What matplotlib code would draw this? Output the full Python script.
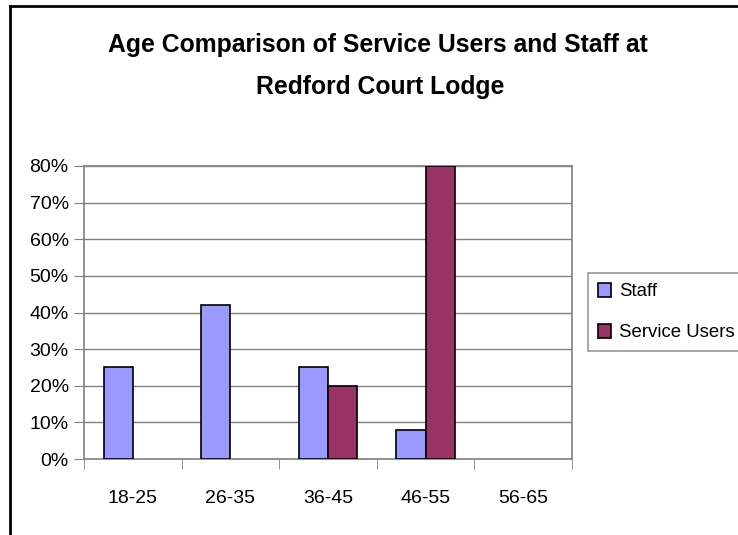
import numpy as np
import matplotlib
matplotlib.use("Agg")
import matplotlib.pyplot as plt
from matplotlib.lines import Line2D
from matplotlib.patches import Patch
from matplotlib.ticker import PercentFormatter

# Data
aldersgrupper = ["18-25", "26-35", "36-45", "46-55", "56-65"]
staff = [25, 42, 25, 8, 0]
service_users = [0, 0, 20, 80, 0]
y_ticks = [0, 10, 20, 30, 40, 50, 60, 70, 80]

farge_staff = "#9999ff"
farge_users = "#993366"

plt.rcParams['font.family'] = ['Liberation Sans', 'DejaVu Sans']

fig = plt.figure(figsize=(7.38, 5.35), dpi=100)
ax = fig.add_axes([84/738, 1 - 459/535, (572 - 84)/738, (459 - 166)/535])

x = np.arange(len(aldersgrupper))
bredde = 0.30
stolper1 = ax.bar(x - bredde/2, staff, width=bredde, color=farge_staff, edgecolor="black",
                  linewidth=1.2, zorder=3)
stolper2 = ax.bar(x + bredde/2, service_users, width=bredde, color=farge_users, edgecolor="black",
                  linewidth=1.2, zorder=3)
# skjuler stolper med verdi 0, Excel tegner ingen kant for dem
for stolpe in list(stolper1) + list(stolper2):
    if stolpe.get_height() == 0:
        stolpe.set_visible(False)

ax.set_xlim(-0.5, len(aldersgrupper) - 0.5)
ax.set_ylim(0, 80)
ax.set_yticks(y_ticks)
ax.yaxis.set_major_formatter(PercentFormatter(decimals=0))
ax.grid(axis="y", color="#808080", linewidth=1.0, zorder=0)

# kategorinavn i midten, tick-merker mellom kategoriene
ax.set_xticks(x)
ax.set_xticklabels(aldersgrupper)
ax.set_xticks(np.arange(-0.5, len(aldersgrupper)), minor=True)
ax.tick_params(axis="x", which="major", length=0, pad=22, labelsize=14)
ax.tick_params(axis="x", which="minor", length=7, color="#808080", direction="out")
ax.tick_params(axis="y", length=7, color="#808080", labelsize=14, pad=4)

for side in ["left", "bottom", "right", "top"]:
    ax.spines[side].set_color("#808080")
    ax.spines[side].set_linewidth(1.2)

fig.text(378/738, 1 - 45/535, "Age Comparison of Service Users and Staff at",
         ha="center", va="center", fontsize=17.8, fontweight="bold")
fig.text(380/738, 1 - 87/535, "Redford Court Lodge",
         ha="center", va="center", fontsize=17.8, fontweight="bold")

# egne handles, siden første stolpe i serien kan være skjult
handles = [Patch(facecolor=farge_staff, edgecolor="black", linewidth=1.2, label="Staff"),
           Patch(facecolor=farge_users, edgecolor="black", linewidth=1.2, label="Service Users")]
leg = ax.legend(handles=handles, loc="center left", bbox_to_anchor=(588/738, 1 - 312/535),
                bbox_transform=fig.transFigure, frameon=True, fancybox=False,
                fontsize=13.4, handlelength=0.7, handleheight=0.8, handletextpad=0.4,
                borderpad=0.55, labelspacing=1.25, borderaxespad=0)
leg.get_frame().set_edgecolor("#808080")
leg.get_frame().set_linewidth(1.2)

# ramme rundt figuren (topp og venstre)
fig.add_artist(Line2D([10/738, 1], [1 - 6/535, 1 - 6/535], color="black", linewidth=2,
                      transform=fig.transFigure))
fig.add_artist(Line2D([10/738, 10/738], [0, 1 - 6/535], color="black", linewidth=2,
                      transform=fig.transFigure))

fig.savefig("out.png", dpi=100)
